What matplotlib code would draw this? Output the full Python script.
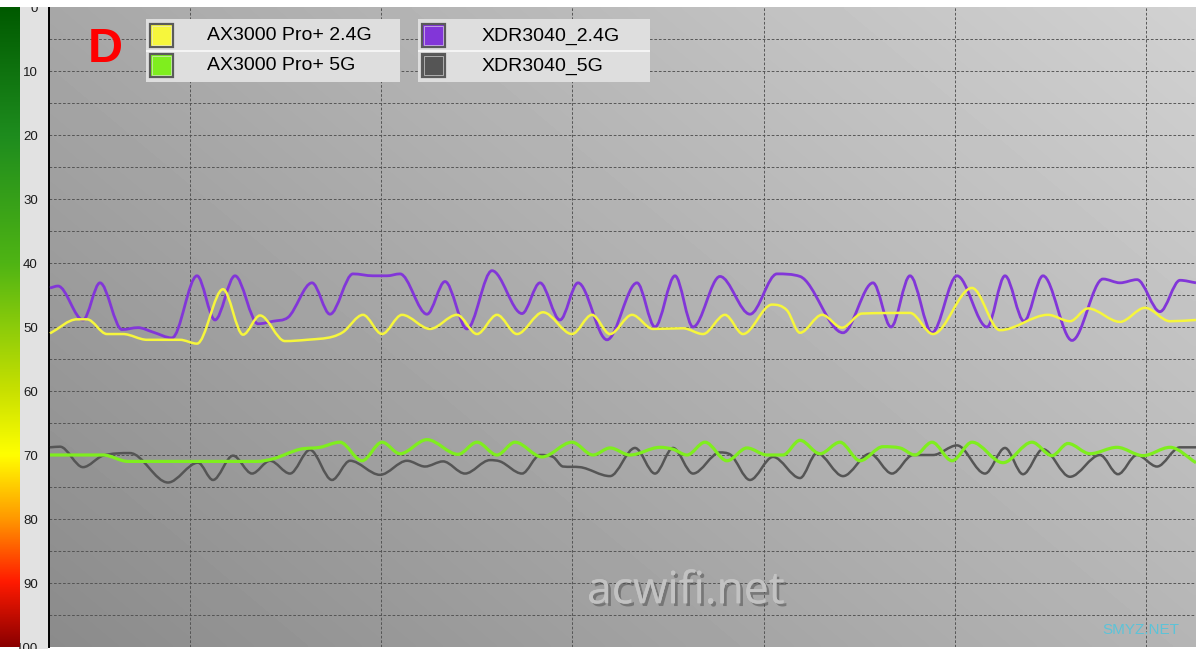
import numpy as np
import matplotlib
matplotlib.use("Agg")
import matplotlib.pyplot as plt
from matplotlib.path import Path
from matplotlib.patches import PathPatch, Rectangle
from matplotlib.colors import LinearSegmentedColormap
import matplotlib.patheffects as pe

# signal readings (dBm, shown as positive numbers) against time
purple_x = [0.1, 0.9, 3.4, 5.1, 7.3, 8.9, 10.4, 12.3, 14.8, 16.6, 18.6, 20.9, 22.4, 23.9, 26.3, 28.1,
            30.4, 32.4, 33.8, 35.1, 37.8, 39.6, 41.8, 44.3, 47.3, 49.1, 51.1, 52.9, 55.8, 58.8, 60.6,
            62.6, 64.4, 67.1, 70.1, 72.8, 75.1, 79.4, 82.4, 84.2, 86.1, 88.3, 90.8, 93.8, 95.6, 97.5,
            99.4, 102.3, 105.4, 107.1, 108.8, 111.1, 113.1, 114.7]
purple_y = [43.9, 43.6, 48.9, 43.1, 50.4, 50.1, 50.8, 51.7, 42.0, 48.9, 42.0, 49.5, 49.1, 48.5, 43.1, 48.0,
            41.7, 42.0, 42.0, 41.7, 48.0, 42.9, 50.3, 41.2, 47.9, 43.1, 48.9, 43.1, 52.0, 43.1, 50.0,
            42.0, 50.0, 42.1, 48.0, 41.7, 42.1, 50.9, 43.1, 50.0, 42.0, 50.9, 42.0, 50.0, 42.0, 49.1,
            42.0, 52.1, 42.5, 43.1, 42.6, 47.6, 42.7, 43.1]

yellow_x = [0.1, 2.8, 3.8, 5.8, 7.4, 9.8, 13.1, 14.8, 17.4, 19.4, 21.1, 23.6, 25.8, 28.4, 29.4, 31.4,
            33.3, 35.3, 38.1, 40.8, 42.8, 44.8, 46.8, 49.4, 52.3, 54.3, 56.1, 58.3, 60.4, 63.4, 65.4,
            67.6, 69.4, 72.3, 73.8, 75.1, 77.3, 79.3, 81.3, 86.1, 88.4, 92.3, 95.1, 99.9, 102.1, 103.9,
            107.1, 109.6, 112.1, 114.7]
yellow_y = [51.0, 48.8, 48.8, 51.1, 51.1, 52.0, 52.0, 52.6, 44.1, 51.2, 48.2, 52.2, 52.0, 51.5, 50.8, 48.1,
            51.1, 48.1, 50.3, 48.1, 51.1, 48.1, 51.1, 47.7, 51.1, 48.1, 51.1, 48.1, 50.3, 50.2, 51.1,
            48.1, 51.1, 46.5, 47.4, 50.9, 48.1, 50.1, 47.9, 47.8, 51.1, 43.9, 50.5, 48.1, 49.1, 47.1,
            49.2, 47.0, 49.1, 48.9]

green_x = [0.1, 5.4, 7.9, 20.8, 22.4, 25.1, 27.1, 29.1, 31.3, 33.3, 35.1, 37.8, 40.9, 42.8, 44.8, 46.6,
           49.3, 52.3, 54.4, 56.1, 58.1, 61.1, 62.4, 63.8, 65.6, 67.8, 69.8, 71.8, 73.4, 75.1, 77.1,
           79.1, 81.1, 83.4, 85.1, 86.6, 88.3, 90.3, 92.3, 95.4, 98.3, 100.3, 101.9, 104.1, 106.8,
           109.4, 112.1, 114.7]
green_y = [70.0, 70.0, 71.0, 71.0, 70.6, 69.1, 68.8, 68.0, 70.9, 68.0, 69.8, 67.6, 69.9, 68.0, 70.0, 68.0,
           70.3, 68.0, 70.0, 68.9, 70.0, 68.8, 69.1, 70.0, 68.0, 70.9, 68.9, 70.0, 70.0, 67.7, 69.8,
           68.0, 70.9, 68.7, 68.9, 70.0, 68.0, 70.9, 68.0, 71.2, 68.0, 70.1, 68.2, 69.8, 68.8,
           70.1, 68.8, 71.2]

gray_x = [0.1, 1.1, 3.4, 5.4, 8.1, 11.9, 14.9, 16.4, 18.4, 20.3, 22.1, 24.1, 26.1, 28.3, 30.1, 33.1,
          35.8, 37.6, 39.4, 41.6, 44.1, 45.1, 47.3, 49.1, 50.4, 51.4, 53.1, 56.1, 58.6, 60.6, 62.4,
          64.4, 67.1, 68.1, 70.1, 72.4, 75.1, 76.8, 79.4, 82.1, 84.3, 86.4, 88.4, 90.8, 93.6, 95.6,
          97.4, 99.4, 102.1, 105.1, 106.9, 108.8, 110.8, 113.1, 114.7]
gray_y = [68.8, 68.7, 71.9, 70.1, 69.7, 74.3, 71.2, 73.9, 70.1, 72.9, 70.9, 72.9, 69.2, 73.9, 70.9, 73.1,
          70.9, 71.8, 71.0, 72.9, 70.8, 71.0, 72.9, 70.0, 70.3, 71.8, 71.9, 73.3, 68.9, 72.9, 68.9,
          72.9, 69.6, 69.9, 73.9, 70.3, 73.6, 69.7, 73.3, 69.8, 72.9, 70.0, 70.0, 68.5, 72.9, 68.9,
          73.0, 69.1, 73.4, 70.0, 73.0, 70.0, 71.8, 68.8, 68.8]

series_names = ["AX3000 Pro+ 2.4G", "AX3000 Pro+ 5G", "XDR3040_2.4G", "XDR3040_5G"]
series_colors = ["#f6f63c", "#7fee1e", "#8236d8", "#555555"]
y_ticks = [0, 10, 20, 30, 40, 50, 60, 70, 80, 90, 100]

W, H = 1196, 649


def smooth_path(x, y):
    # monotone cubic bezier through the read points
    x = np.asarray(x, float)
    y = np.asarray(y, float)
    h = np.diff(x)
    d = np.diff(y) / h
    m = np.zeros_like(y)
    m[0], m[-1] = d[0], d[-1]
    for i in range(1, len(y) - 1):
        if d[i - 1] * d[i] > 0:
            s = (d[i - 1] + d[i]) / 2
            lim = 3 * min(abs(d[i - 1]), abs(d[i]))
            m[i] = np.sign(s) * min(abs(s), lim)
    verts = [(x[0], y[0])]
    codes = [Path.MOVETO]
    for i in range(len(x) - 1):
        verts += [(x[i] + h[i] / 3, y[i] + m[i] * h[i] / 3),
                  (x[i + 1] - h[i] / 3, y[i + 1] - m[i + 1] * h[i] / 3),
                  (x[i + 1], y[i + 1])]
        codes += [Path.CURVE4] * 3
    return Path(verts, codes)


fig = plt.figure(figsize=(W / 100, H / 100), dpi=100, facecolor="white")

ax_bottom = 2 / H
ax_height = 640 / H
ax = fig.add_axes([49 / W, ax_bottom, 1147 / W, ax_height])
ax.set_xlim(0, 114.7)
ax.set_ylim(100, 0)

# background gradient of the plot area
gx = np.linspace(0, 1, 200)
gy = np.linspace(0, 1, 200)
GX, GY = np.meshgrid(gx, gy)
bg = 0.655 + 0.165 * GX - 0.11 * GY
ax.imshow(bg, cmap="gray", vmin=0, vmax=1, extent=(0, 114.7, 100, 0), aspect="auto",
          interpolation="bilinear", zorder=0)

# grid
for v in np.arange(5, 100, 5):
    ax.axhline(v, color="#505050", lw=0.65, ls=(0, (3, 2)), zorder=1)
for v in np.arange(14.1, 114, 19.12):
    ax.axvline(v, color="#505050", lw=0.65, ls=(0, (3, 2)), zorder=1)

# curves
ax.add_patch(PathPatch(smooth_path(gray_x, gray_y), fc="none", ec=series_colors[3], lw=1.8, zorder=3))
ax.add_patch(PathPatch(smooth_path(green_x, green_y), fc="none", ec=series_colors[1], lw=2.3, zorder=4))
ax.add_patch(PathPatch(smooth_path(purple_x, purple_y), fc="none", ec=series_colors[2], lw=2.0, zorder=5))
ax.add_patch(PathPatch(smooth_path(yellow_x, yellow_y), fc="none", ec=series_colors[0], lw=1.8, zorder=6))

ax.set_xticks([])
ax.set_yticks(y_ticks)
ax.set_yticklabels([str(t) for t in y_ticks], fontsize=9.5, family="Liberation Sans", color="#1a1a1a")
ax.tick_params(axis="y", length=0, pad=8)
for s in ["top", "right", "bottom"]:
    ax.spines[s].set_visible(False)
ax.spines["left"].set_color("black")
ax.spines["left"].set_linewidth(1.4)

# colour scale on the left
cax = fig.add_axes([0, ax_bottom, 20 / W, ax_height])
cmap = LinearSegmentedColormap.from_list("sig", [
    (0.0, "#005a00"), (0.2, "#1e8c1e"), (0.4, "#4fb414"), (0.5, "#8ccc0a"),
    (0.6, "#c8e000"), (0.7, "#ffff00"), (0.8, "#ff9900"), (0.9, "#ff1a00"), (1.0, "#8b0000")])
cax.imshow(np.linspace(0, 1, 256).reshape(-1, 1), cmap=cmap, aspect="auto", extent=(0, 1, 1, 0))
cax.set_axis_off()
fig.add_artist(Rectangle((20 / W, 0), 28 / W, 1, transform=fig.transFigure,
                         fc="#e2e2e2", ec="none", zorder=-1))

# legend boxes
def px(x0, y0, w, h):
    return (x0 / W, 1 - (y0 + h) / H), w / W, h / H

for (bx, bw), idx in [((146, 254), (0, 1)), ((418, 232), (2, 3))]:
    xy, w, h = px(bx, 19, bw, 63)
    fig.add_artist(Rectangle(xy, w, h, transform=fig.transFigure, fc="#dedede", ec="none", zorder=5))
    xy, w, h = px(bx, 50, bw, 2)
    fig.add_artist(Rectangle(xy, w, h, transform=fig.transFigure, fc="#f4f4f4", ec="none", zorder=6))
    for row, k in enumerate(idx):
        yy = 24 + row * 30
        xy, w, h = px(bx + 4, yy, 23, 23)
        fig.add_artist(Rectangle(xy, w, h, transform=fig.transFigure, fc=series_colors[k],
                                 ec="#5a5a5a", lw=1.6, zorder=7))
        xy, w, h = px(bx + 6, yy + 2, 19, 19)
        fig.add_artist(Rectangle(xy, w, h, transform=fig.transFigure, fc="none",
                                 ec="#e8e8e8", lw=0.6, alpha=0.7, zorder=7))
        tx = bx + (61 if k < 2 else 64)
        fig.text(tx / W, 1 - (yy + 12) / H, series_names[k], fontsize=14, family="Liberation Sans",
                 color="black", va="center", ha="left", zorder=8)

fig.text(105 / W, 1 - 50 / H, "D", fontsize=35, fontweight="bold", family="Liberation Sans",
         color="#ff0000", ha="center", va="center", zorder=8)

# watermarks
fig.text(686 / W, 1 - 592 / H, "acwifi.net", fontsize=32, family="Open Sans", color="#c2c2c2",
         ha="center", va="center", zorder=8,
         path_effects=[pe.withSimplePatchShadow(offset=(2, -2), shadow_rgbFace="#4a4a4a", alpha=0.5),
                       pe.Normal()])
fig.text(1141 / W, 1 - 630 / H, "SMYZ.NET", fontsize=11, family="Liberation Sans", color="#5cc3d8",
         ha="center", va="center", zorder=8)

# white strip at the very top
fig.add_artist(Rectangle((0, 1 - 7 / H), 1, 7 / H, transform=fig.transFigure, fc="white", ec="none", zorder=20))

fig.savefig("out.png", dpi=100, facecolor="white")
